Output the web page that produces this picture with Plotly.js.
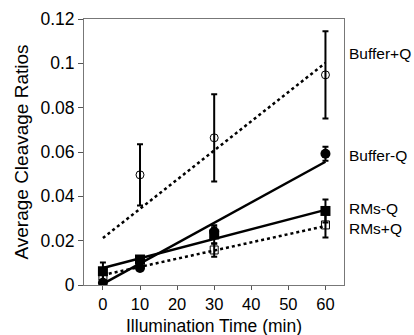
<!DOCTYPE html>
<html><head><meta charset="utf-8">
<script src="https://cdn.plot.ly/plotly-3.0.1.min.js"></script>
<style>html,body{margin:0;padding:0;background:#fff}#c{width:414px;height:335px}</style>
</head><body><div id="c"></div>
<script>
const times = [0, 10, 30, 60];
const bufPlusX = [10, 30, 60];
const bufPlusY = [0.0497, 0.0664, 0.0948];
const bufPlusErr = [0.0138, 0.0197, 0.0197];
const bufMinusY = [0.0010, 0.0077, 0.0240, 0.0592];
const bufMinusErr = [0.0010, 0.0010, 0.0020, 0.0032];
const rmsMinusY = [0.0062, 0.0115, 0.0228, 0.0334];
const rmsMinusErr = [0.0040, 0.0015, 0.0042, 0.0052];
const rmsPlusY = [0.0040, 0.0090, 0.0158, 0.0271];
const rmsPlusErr = [0.0025, 0.0015, 0.0030, 0.0057];
const fitX = [0, 60];
const fitBufPlus = [0.0212, 0.1002];
const fitBufMinus = [0.0005, 0.0556];
const fitRmsMinus = [0.0077, 0.0339];
const fitRmsPlus = [0.0045, 0.0266];
const labels = ['Buffer+Q', 'Buffer-Q', 'RMs-Q', 'RMs+Q'];
const labelY = [0.1045, 0.0585, 0.0345, 0.0255];

const errStyle = a => ({type:'data', array:a, visible:true, color:'#000', thickness:2, width:3});
const traces = [
  {x:fitX, y:fitBufPlus, mode:'lines', line:{color:'#000', width:2.5, dash:'dot'}},
  {x:fitX, y:fitBufMinus, mode:'lines', line:{color:'#000', width:2.5}},
  {x:fitX, y:fitRmsMinus, mode:'lines', line:{color:'#000', width:2.5}},
  {x:fitX, y:fitRmsPlus, mode:'lines', line:{color:'#000', width:2.5, dash:'dot'}},
  {x:bufPlusX, y:bufPlusY, mode:'markers', error_y:errStyle(bufPlusErr),
   marker:{symbol:'circle-open', size:8, color:'#000', line:{width:1, color:'#444'}}},
  {x:times, y:bufMinusY, mode:'markers', error_y:errStyle(bufMinusErr),
   marker:{symbol:'circle', size:10, color:'#000'}},
  {x:times, y:rmsMinusY, mode:'markers', error_y:errStyle(rmsMinusErr),
   marker:{symbol:'square', size:10, color:'#000'}},
  {x:times, y:rmsPlusY, mode:'markers', error_y:errStyle(rmsPlusErr),
   marker:{symbol:'square-open', size:8, color:'#000', line:{width:1, color:'#444'}}}
];
const fontFam = 'Liberation Sans, Arial, sans-serif';
const annotations = labels.map((t,i)=>({xref:'paper', yref:'y', x:1.01, y:labelY[i], text:t,
  showarrow:false, xanchor:'left', yanchor:'middle', font:{family:fontFam, size:15.5, color:'#000'}}));
annotations.push({xref:'paper', yref:'paper', x:0.5, y:0, yshift:-41, text:'Illumination Time (min)',
  showarrow:false, xanchor:'center', yanchor:'middle', font:{family:fontFam, size:17.5, color:'#000'}});
const layout = {
  width:414, height:335, showlegend:false,
  paper_bgcolor:'#fff', plot_bgcolor:'#fff',
  margin:{l:84, r:70, t:19, b:50},
  font:{family:fontFam, color:'#000'},
  xaxis:{range:[-5.1, 65], tickvals:[0,10,20,30,40,50,60], ticks:'outside', ticklen:4, tickcolor:'#555',
    showline:true, linecolor:'#777', linewidth:1, mirror:true, showgrid:false, zeroline:false,
    tickfont:{size:16.5}, automargin:false},
  yaxis:{range:[0, 0.12], tickvals:[0,0.02,0.04,0.06,0.08,0.1,0.12], ticktext:['0','0.02','0.04','0.06','0.08','0.1','0.12'],
    ticks:'outside', ticklen:5, tickcolor:'#555',
    showline:true, linecolor:'#777', linewidth:1, mirror:true, showgrid:false, zeroline:false,
    tickfont:{size:17.5}, title:{text:'Average Cleavage Ratios', font:{size:19}, standoff:6}},
  annotations:annotations
};
Plotly.newPlot('c', traces, layout, {displayModeBar:false, staticPlot:true});
</script></body></html>
